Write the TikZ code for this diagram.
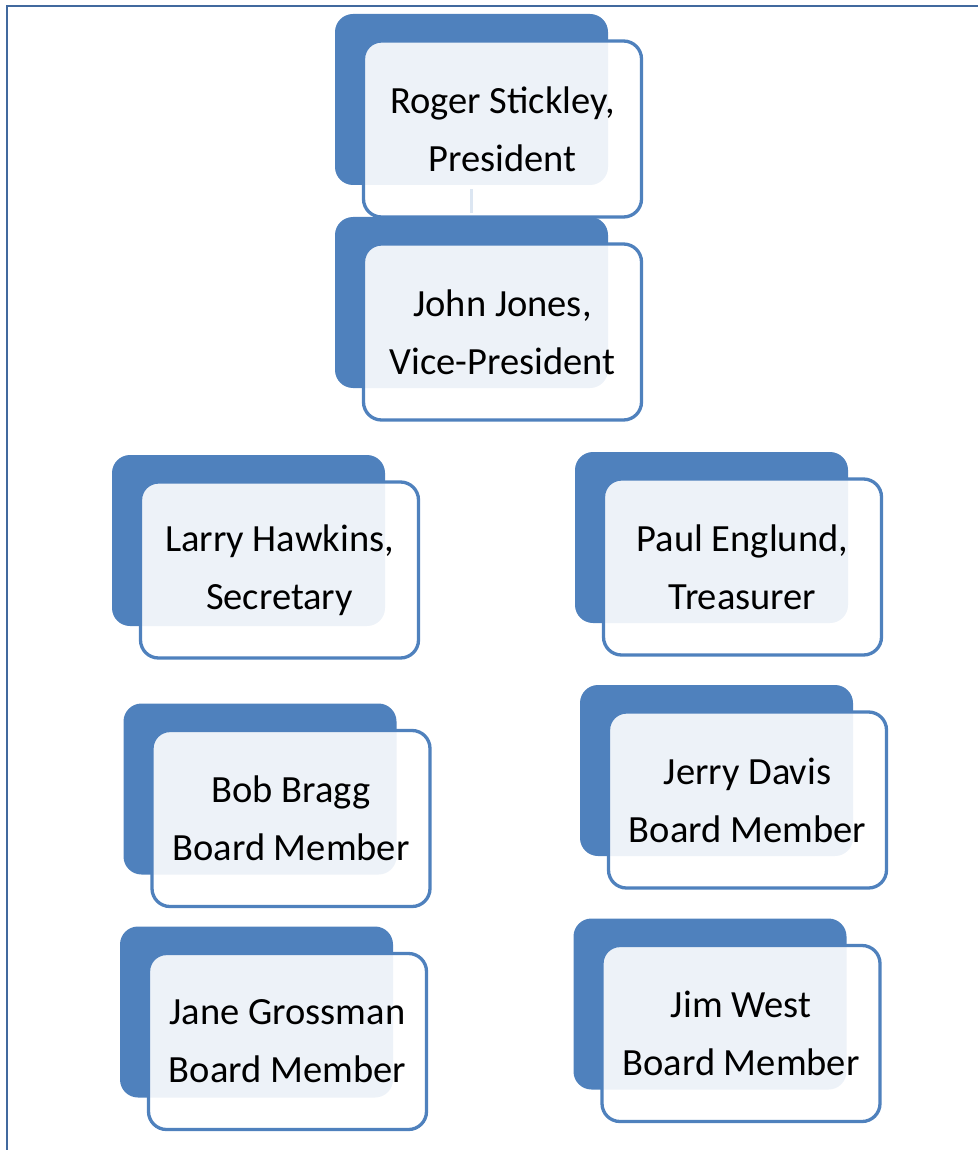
\documentclass[tikz,border=0pt]{standalone}
\usepackage{fontspec}
\setmainfont{Carlito}
\definecolor{accent}{HTML}{4F81BD}
\definecolor{framec}{HTML}{41699E}
\definecolor{linkc}{HTML}{DCE6F2}

\begin{document}
\begin{tikzpicture}[x=1pt,y=-1pt]
  \def\dx{31}
  \def\dy{29.5}

\tikzstyle{back}=[rectangle,rounded corners=18pt,fill=accent,minimum width=273pt,minimum height=171pt,inner sep=0pt]
\tikzstyle{card}=[rectangle,rounded corners=18pt,draw=accent,line width=3.3pt,fill=white,fill opacity=0.9,text opacity=1,minimum width=278pt,minimum height=176pt,inner sep=0pt,align=center,font=\fontsize{38.5}{58}\selectfont]
\tikzstyle{link}=[draw=linkc,line width=3pt,shorten >=4pt,shorten <=4pt]

\useasboundingbox (0,0) rectangle (977,1150);
\draw[framec,line width=2pt] (7,6) rectangle (995,1170);

% president and vice-president
\node[back] (Pb) at (471.5,99.5) {};
\node[card] (P) at (471.5+\dx,99.5+\dy) {Roger Stickley,\\President};
\node[back] (Vb) at (471.5,302.5) {};
\node[card] (V) at (471.5+\dx,302.5+\dy) {John Jones,\\Vice-President};
\draw[link] (Pb.south) -- (Vb.north);

% officers
\node[back] (Sb) at (248.5,540.5) {};
\node[card] (S) at (248.5+\dx,540.5+\dy) {Larry Hawkins,\\Secretary};
\node[back] (Tb) at (711.5,537.5) {};
\node[card] (T) at (711.5+\dx,537.5+\dy) {Paul Englund,\\Treasurer};

% board members
\node[back] (B1b) at (260,789) {};
\node[card] (B1) at (260+\dx,789+\dy) {Bob Bragg\\Board Member};
\node[back] (B2b) at (716.5,770.5) {};
\node[card] (B2) at (716.5+\dx,770.5+\dy) {Jerry Davis\\Board Member};
\node[back] (B3b) at (256.5,1012) {};
\node[card] (B3) at (256.5+\dx,1012+\dy) {Jane Grossman\\Board Member};
\node[back] (B4b) at (710,1004) {};
\node[card] (B4) at (710+\dx,1004+\dy) {Jim West\\Board Member};
\end{tikzpicture}
\end{document}
